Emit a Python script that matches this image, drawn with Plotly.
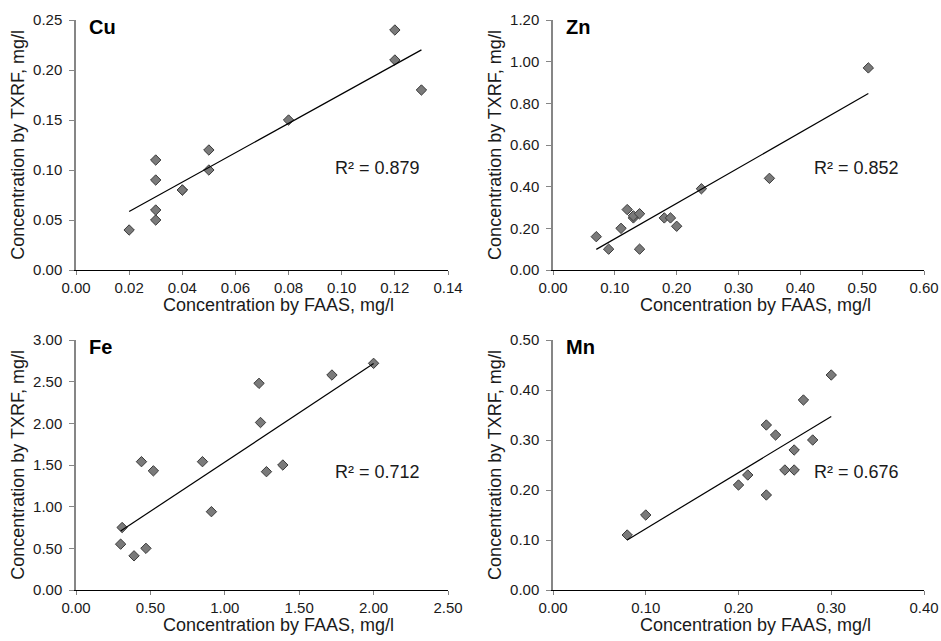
import numpy as np
import plotly.graph_objects as go

# ---- data ----
elements = ["Cu", "Zn", "Fe", "Mn"]
r2_labels = ["R² = 0.879", "R² = 0.852", "R² = 0.712", "R² = 0.676"]

cu_faas = [0.02, 0.03, 0.03, 0.03, 0.03, 0.04, 0.04, 0.05, 0.05, 0.08, 0.12, 0.12, 0.13]
cu_txrf = [0.04, 0.05, 0.06, 0.09, 0.11, 0.08, 0.08, 0.10, 0.12, 0.15, 0.21, 0.24, 0.18]

zn_faas = [0.07, 0.09, 0.11, 0.12, 0.13, 0.13, 0.14, 0.14, 0.18, 0.19, 0.20, 0.24, 0.35, 0.51]
zn_txrf = [0.16, 0.10, 0.20, 0.29, 0.25, 0.26, 0.27, 0.10, 0.25, 0.25, 0.21, 0.39, 0.44, 0.97]

fe_faas = [0.30, 0.31, 0.39, 0.44, 0.47, 0.52, 0.85, 0.91, 1.23, 1.24, 1.28, 1.39, 1.72, 2.00]
fe_txrf = [0.55, 0.75, 0.41, 1.54, 0.50, 1.43, 1.54, 0.94, 2.48, 2.01, 1.42, 1.50, 2.58, 2.72]

mn_faas = [0.08, 0.10, 0.20, 0.21, 0.23, 0.23, 0.24, 0.25, 0.26, 0.26, 0.27, 0.28, 0.30]
mn_txrf = [0.11, 0.15, 0.21, 0.23, 0.19, 0.33, 0.31, 0.24, 0.24, 0.28, 0.38, 0.30, 0.43]

x_ranges = [[0, 0.14], [0, 0.60], [0, 2.50], [0, 0.40]]
y_ranges = [[0, 0.25], [0, 1.20], [0, 3.00], [0, 0.50]]
x_dticks = [0.02, 0.10, 0.50, 0.10]
y_dticks = [0.05, 0.20, 0.50, 0.10]

x_title = "Concentration by FAAS, mg/l"
y_title = "Concentration by TXRF, mg/l"

series = [(cu_faas, cu_txrf), (zn_faas, zn_txrf), (fe_faas, fe_txrf), (mn_faas, mn_txrf)]

# ---- layout geometry ----
W, H = 941, 641
x_doms = [[76 / W, 448 / W], [553 / W, 924 / W], [76 / W, 448 / W], [553 / W, 924 / W]]
y_doms = [[1 - 270 / H, 1 - 20 / H], [1 - 270 / H, 1 - 20 / H],
          [1 - 590 / H, 1 - 340 / H], [1 - 590 / H, 1 - 340 / H]]
r2_pos = [(0.69, 0.408), (0.698, 0.408), (0.69, 0.472), (0.698, 0.472)]

FONT = "Liberation Sans, Arial, sans-serif"
TXT = "#1a1a1a"

fig = go.Figure()
layout = dict(
    width=W, height=H,
    margin=dict(l=0, r=0, t=0, b=0),
    paper_bgcolor="white", plot_bgcolor="white",
    showlegend=False,
    font=dict(family=FONT, color="#000000"),
)
annotations = []

for i, (xs, ys) in enumerate(series):
    n = "" if i == 0 else str(i + 1)
    xa, ya = "x" + n, "y" + n
    fig.add_trace(go.Scatter(
        x=xs, y=ys, mode="markers", xaxis=xa, yaxis=ya,
        marker=dict(symbol="diamond", size=8, color="#7a7a7a",
                    line=dict(color="#3a3a3a", width=1)),
        cliponaxis=False,
    ))
    slope, intercept = np.polyfit(xs, ys, 1)
    lx = np.array([min(xs), max(xs)])
    fig.add_trace(go.Scatter(
        x=lx, y=slope * lx + intercept, mode="lines", xaxis=xa, yaxis=ya,
        line=dict(color="#000000", width=1.2),
    ))
    layout["xaxis" + n] = dict(
        domain=x_doms[i], range=x_ranges[i], dtick=x_dticks[i], tick0=0,
        tickformat=".2f", showgrid=False, zeroline=False,
        showline=True, linecolor="#000000", linewidth=1,
        ticks="outside", ticklen=4, tickcolor="#808080",
        tickfont=dict(size=15, family=FONT, color=TXT),
        anchor=ya, automargin=False,
    )
    layout["yaxis" + n] = dict(
        domain=y_doms[i], range=y_ranges[i], dtick=y_dticks[i], tick0=0,
        tickformat=".2f", showgrid=False, zeroline=False,
        showline=True, linecolor="#868686", linewidth=1.5,
        ticks="outside", ticklen=5, tickcolor="#868686",
        tickfont=dict(size=15, family=FONT, color=TXT),
        ticklabelstandoff=4,
        anchor=xa, automargin=False,
        title=dict(text=y_title, font=dict(size=18, family=FONT, color=TXT), standoff=4),
    )
    annotations.append(dict(
        text=x_title, xref=xa + " domain", yref=ya + " domain",
        x=0.545, y=-0.14, xanchor="center", yanchor="middle", showarrow=False,
        font=dict(size=18, family=FONT, color=TXT),
    ))
    annotations.append(dict(
        text="<b>%s</b>" % elements[i], xref=xa + " domain", yref=ya + " domain",
        x=0.03, y=0.972, xanchor="left", yanchor="middle", showarrow=False,
        font=dict(size=20, family=FONT, color="#000000"),
    ))
    annotations.append(dict(
        text=r2_labels[i], xref=xa + " domain", yref=ya + " domain",
        x=r2_pos[i][0], y=r2_pos[i][1], xanchor="left", yanchor="middle", showarrow=False,
        font=dict(size=18, family=FONT, color=TXT),
    ))

layout["annotations"] = annotations
fig.update_layout(**layout)
fig.write_html("out.html")
